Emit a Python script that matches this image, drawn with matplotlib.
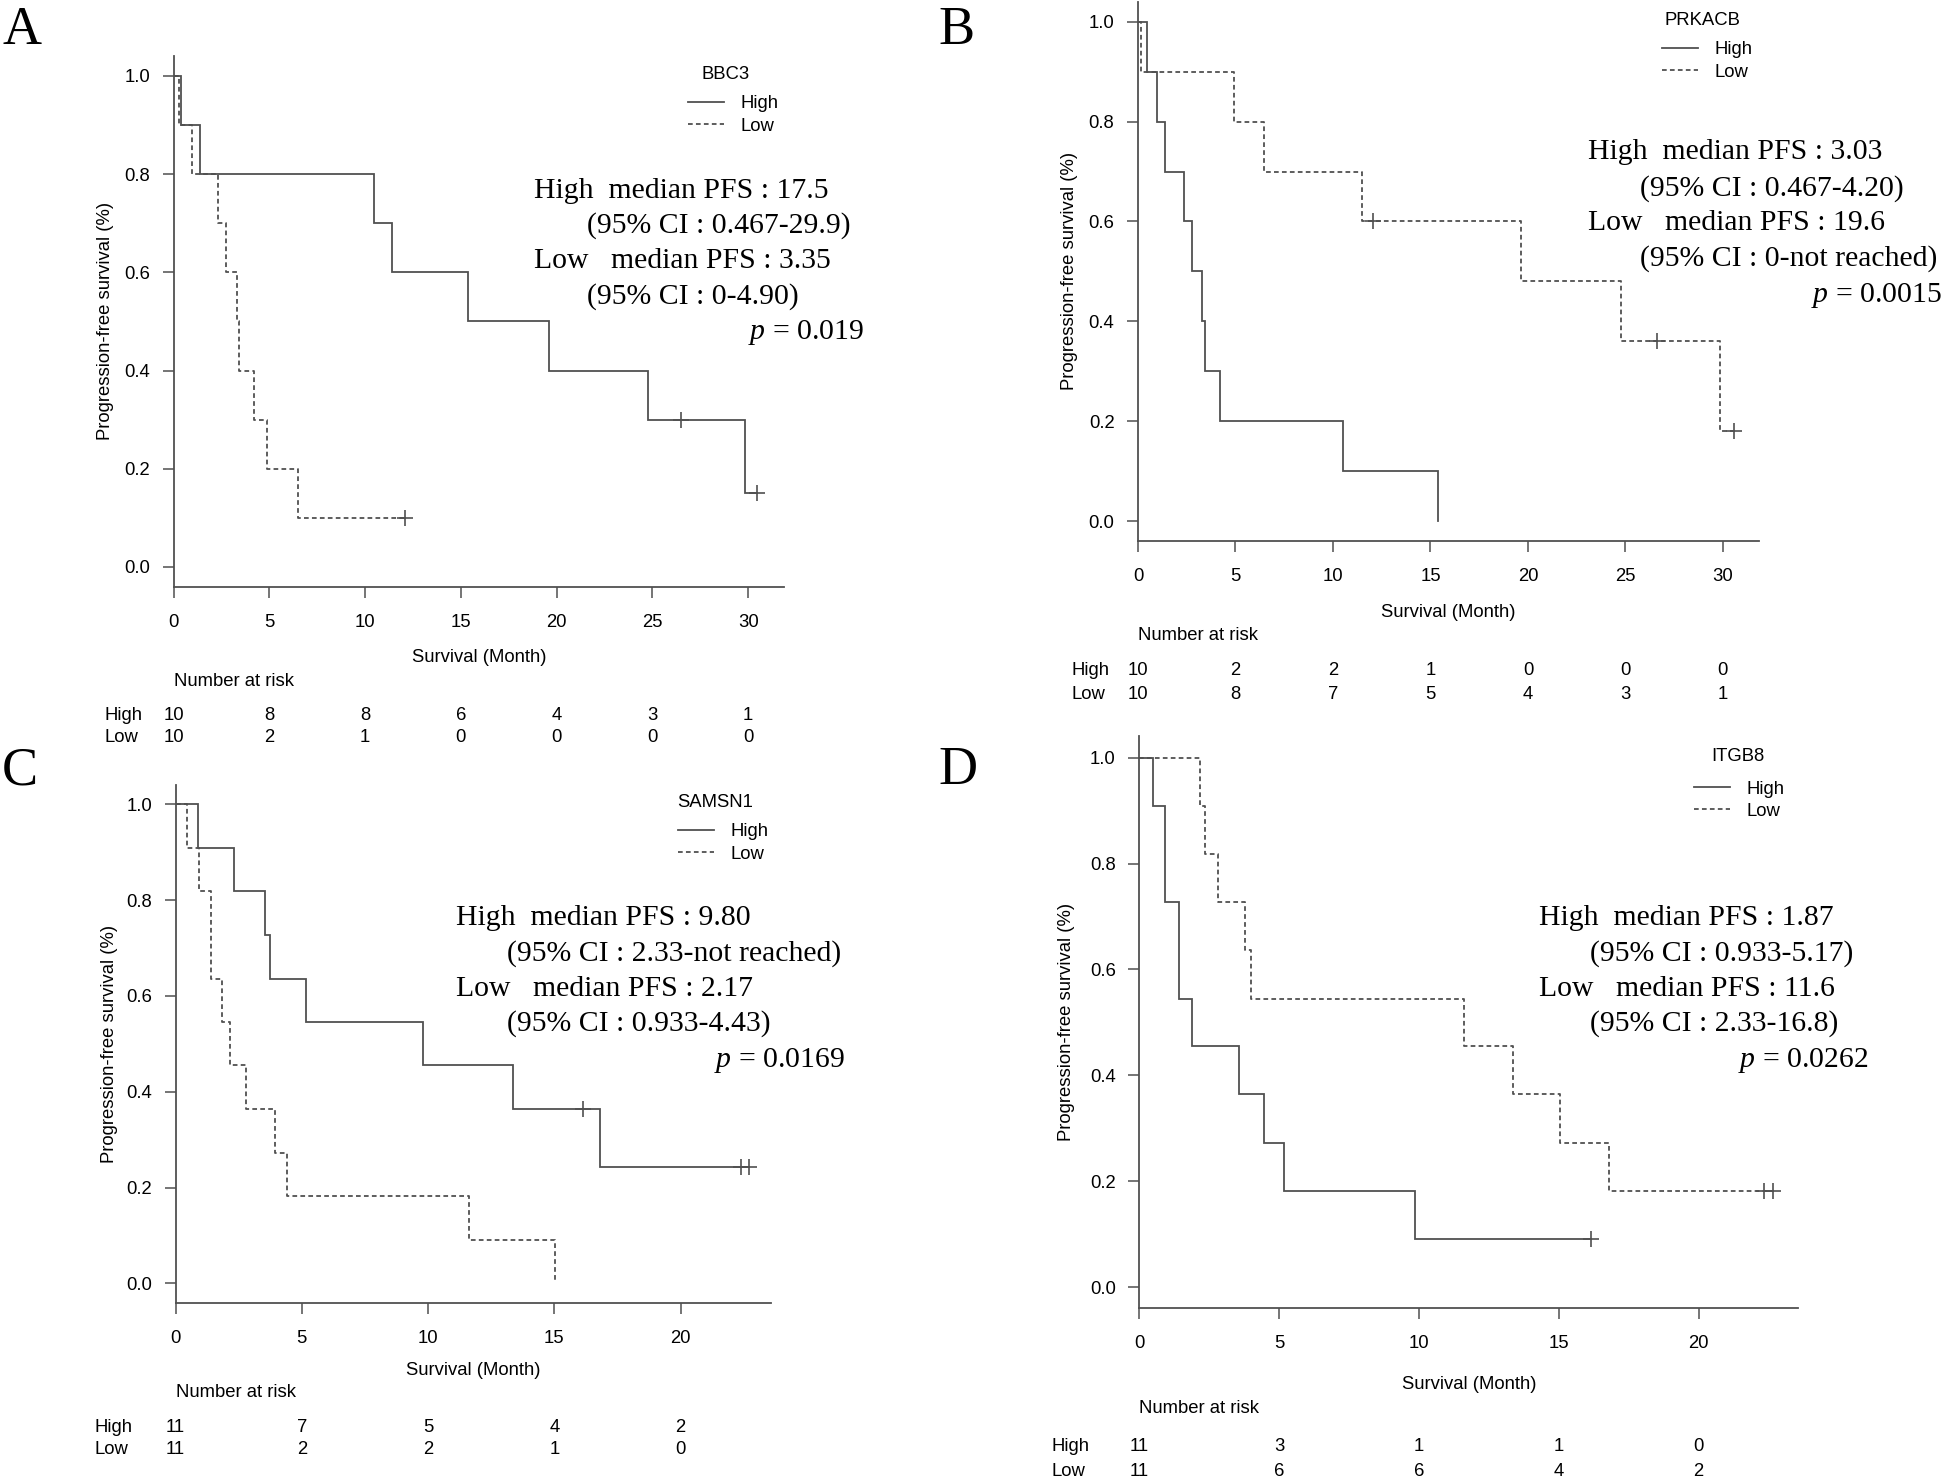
import matplotlib
matplotlib.use('Agg')
import matplotlib.pyplot as plt
from matplotlib.lines import Line2D
from matplotlib.transforms import blended_transform_factory
import numpy as np

plt.rcParams['font.family'] = ['Liberation Sans', 'DejaVu Sans']
plt.rcParams['mathtext.fontset'] = 'custom'
plt.rcParams['mathtext.rm'] = 'Liberation Serif'
plt.rcParams['mathtext.it'] = 'Liberation Serif:italic'

# ---------------- data ----------------
# Panel A : BBC3
A_gene = "BBC3"
A_high_t = [0, 0.40, 1.36, 10.44, 11.38, 15.36, 19.60, 24.77, 29.84]
A_high_s = [1.0, 0.9, 0.8, 0.7, 0.6, 0.5, 0.4, 0.3, 0.15]
A_high_cens = [26.5, 30.46]
A_low_t = [0, 0.30, 0.97, 2.33, 2.75, 3.30, 3.40, 4.20, 4.90, 6.50]
A_low_s = [1.0, 0.9, 0.8, 0.7, 0.6, 0.5, 0.4, 0.3, 0.2, 0.1]
A_low_cens = [12.06]
A_risk_t = [0, 5, 10, 15, 20, 25, 30]
A_risk_high = [10, 8, 8, 6, 4, 3, 1]
A_risk_low = [10, 2, 1, 0, 0, 0, 0]
A_stats = ["High  median PFS : 17.5", "(95% CI : 0.467-29.9)",
           "Low   median PFS : 3.35", "(95% CI : 0-4.90)"]
A_p = "0.019"

# Panel B : PRKACB
B_gene = "PRKACB"
B_high_t = [0, 0.467, 0.95, 1.40, 2.35, 2.77, 3.30, 3.43, 4.20, 10.52, 15.41]
B_high_s = [1.0, 0.9, 0.8, 0.7, 0.6, 0.5, 0.4, 0.3, 0.2, 0.1, 0.0]
B_high_cens = []
B_low_t = [0, 0.15, 4.90, 6.48, 11.50, 19.64, 24.79, 29.87]
B_low_s = [1.0, 0.9, 0.8, 0.7, 0.6, 0.48, 0.36, 0.18]
B_low_cens = [12.07, 26.6, 30.57]
B_risk_t = [0, 5, 10, 15, 20, 25, 30]
B_risk_high = [10, 2, 2, 1, 0, 0, 0]
B_risk_low = [10, 8, 7, 5, 4, 3, 1]
B_stats = ["High  median PFS : 3.03", "(95% CI : 0.467-4.20)",
           "Low   median PFS : 19.6", "(95% CI : 0-not reached)"]
B_p = "0.0015"

# Panel C : SAMSN1
C_gene = "SAMSN1"
C_high_t = [0, 0.91, 2.33, 3.53, 3.75, 5.15, 9.80, 13.35, 16.81]
C_high_s = [1.0, 0.909, 0.818, 0.727, 0.636, 0.545, 0.455, 0.364, 0.243]
C_high_cens = [16.12, 22.38, 22.70]
C_low_t = [0, 0.47, 0.933, 1.40, 1.84, 2.17, 2.80, 3.95, 4.43, 11.63, 15.02]
C_low_s = [1.0, 0.909, 0.818, 0.636, 0.545, 0.455, 0.364, 0.273, 0.182, 0.091, 0.0]
C_low_cens = []
C_risk_t = [0, 5, 10, 15, 20]
C_risk_high = [11, 7, 5, 4, 2]
C_risk_low = [11, 2, 2, 1, 0]
C_stats = ["High  median PFS : 9.80", "(95% CI : 2.33-not reached)",
           "Low   median PFS : 2.17", "(95% CI : 0.933-4.43)"]
C_p = "0.0169"

# Panel D : ITGB8
D_gene = "ITGB8"
D_high_t = [0, 0.49, 0.933, 1.40, 1.87, 3.55, 4.46, 5.17, 9.84]
D_high_s = [1.0, 0.909, 0.727, 0.545, 0.455, 0.364, 0.273, 0.182, 0.091]
D_high_cens = [16.14]
D_low_t = [0, 2.17, 2.33, 2.82, 3.77, 3.99, 11.60, 13.35, 15.03, 16.80]
D_low_s = [1.0, 0.909, 0.818, 0.727, 0.636, 0.545, 0.455, 0.364, 0.273, 0.182]
D_low_cens = [22.35, 22.66]
D_risk_t = [0, 5, 10, 15, 20]
D_risk_high = [11, 3, 1, 1, 0]
D_risk_low = [11, 6, 6, 4, 2]
D_stats = ["High  median PFS : 1.87", "(95% CI : 0.933-5.17)",
           "Low   median PFS : 11.6", "(95% CI : 2.33-16.8)"]
D_p = "0.0262"

y_ticks = [0.0, 0.2, 0.4, 0.6, 0.8, 1.0]
y_ticklabels = ["0.0", "0.2", "0.4", "0.6", "0.8", "1.0"]

# ---------------- layout (pixels) ----------------
W, H = 1944, 1478
GRAY = '#505050'
FS = 13.3
SERIF = ['Liberation Serif', 'DejaVu Serif']
SANS = ['Liberation Sans', 'DejaVu Sans']

fig = plt.figure(figsize=(W / 100, H / 100), dpi=100)
fig.patch.set_facecolor('white')


def fx(px):
    return px / W


def fy(py):
    return 1 - py / H


layouts = {
    'A': dict(box=(173.6, 56.2, 784.0, 586.6), xmax=31.87, letter=(2, 44),
              stat_x=(534.4, 586.5, 863.6), stat_y=(188.7, 223.9, 259.5, 294.7, 329.9),
              leg=(688, 95.5), leg_title=(726, 79.3), ylab_x=105,
              xlab_y=656, nar_y=680, hi_y=713, lo_y=735, row_x=105),
    'B': dict(box=(1138.0, 1.8, 1759.0, 541.0), xmax=31.85, letter=(938, 44),
              stat_x=(1587.6, 1639.7, 1942.0), stat_y=(150.4, 186.8, 221.2, 256.4, 292.8),
              leg=(1662, 41.5), leg_title=(1702, 24.7), ylab_x=1070,
              xlab_y=611, nar_y=633.6, hi_y=668, lo_y=692, row_x=1071),
    'C': dict(box=(175.5, 785.0, 770.6, 1302.6), xmax=23.56, letter=(2, 784),
              stat_x=(455.7, 507.0, 844.4), stat_y=(916, 951.6, 986.8, 1022, 1057.6),
              leg=(677.6, 823.2), leg_title=(715, 807.3), ylab_x=109,
              xlab_y=1369, nar_y=1391, hi_y=1425, lo_y=1447, row_x=94),
    'D': dict(box=(1139.4, 736.4, 1798.4, 1308.4), xmax=23.57, letter=(938, 784),
              stat_x=(1539.3, 1590.0, 1868.0), stat_y=(916, 951.6, 986.8, 1022, 1057.6),
              leg=(1694, 780.5), leg_title=(1737.6, 761.3), ylab_x=1066,
              xlab_y=1382.6, nar_y=1407.4, hi_y=1444.6, lo_y=1469.4, row_x=1051),
}

panels = {
    'A': (A_gene, (A_high_t, A_high_s, A_high_cens), (A_low_t, A_low_s, A_low_cens),
          (A_risk_t, A_risk_high, A_risk_low), A_stats, A_p),
    'B': (B_gene, (B_high_t, B_high_s, B_high_cens), (B_low_t, B_low_s, B_low_cens),
          (B_risk_t, B_risk_high, B_risk_low), B_stats, B_p),
    'C': (C_gene, (C_high_t, C_high_s, C_high_cens), (C_low_t, C_low_s, C_low_cens),
          (C_risk_t, C_risk_high, C_risk_low), C_stats, C_p),
    'D': (D_gene, (D_high_t, D_high_s, D_high_cens), (D_low_t, D_low_s, D_low_cens),
          (D_risk_t, D_risk_high, D_risk_low), D_stats, D_p),
}

LW = 1.3
DASH = (2.6, 1.8)


def draw_curve(ax, t, s, cens, dashed):
    end = max([t[-1]] + list(cens))
    xs = list(t) + [end]
    ys = list(s) + [s[-1]]
    kw = dict(color=GRAY, lw=LW, drawstyle='steps-post', solid_joinstyle='miter')
    if dashed:
        kw['linestyle'] = (0, DASH)
    ax.plot(xs, ys, **kw)
    if len(cens):
        idx = np.searchsorted(np.asarray(t), np.asarray(cens), side='right') - 1
        yc = np.asarray(s)[idx]
        ax.plot(cens, yc, linestyle='none', marker='+', markersize=11,
                markeredgewidth=1.2, color=GRAY)


for key in ['A', 'B', 'C', 'D']:
    L = layouts[key]
    gene, high, low, risk, stats, pval = panels[key]
    left, top, right, bottom = L['box']
    ax = fig.add_axes([fx(left), fy(bottom), (right - left) / W, (bottom - top) / H])
    ax.set_facecolor('none')
    ax.set_xlim(0, L['xmax'])
    ax.set_ylim(-0.04, 1.04)
    for sp in ['top', 'right']:
        ax.spines[sp].set_visible(False)
    for sp in ['left', 'bottom']:
        ax.spines[sp].set_color(GRAY)
        ax.spines[sp].set_linewidth(1.3)
    ax.set_xticks(risk[0])
    ax.set_xticklabels([str(v) for v in risk[0]])
    ax.set_yticks(y_ticks)
    ax.set_yticklabels(y_ticklabels)
    ax.tick_params(direction='out', length=8, width=1.1, color=GRAY,
                   labelsize=FS, labelcolor='black')
    ax.tick_params(axis='x', pad=11.5)
    ax.tick_params(axis='y', pad=9)

    draw_curve(ax, *high, dashed=False)
    draw_curve(ax, *low, dashed=True)

    # legend (entries) + title
    handles = [Line2D([], [], color=GRAY, lw=LW),
               Line2D([], [], color=GRAY, lw=LW, linestyle=(0, DASH))]
    ax.legend(handles, ['High', 'Low'], loc='upper left', frameon=False,
              bbox_to_anchor=(fx(L['leg'][0]), fy(L['leg'][1])),
              bbox_transform=fig.transFigure, borderpad=0, borderaxespad=0,
              handlelength=1.95, handletextpad=0.9, labelspacing=0.29,
              fontsize=FS)
    fig.text(fx(L['leg_title'][0]), fy(L['leg_title'][1]), gene, ha='center',
             va='baseline', fontsize=FS, family=SANS)

    # statistics text
    sx = L['stat_x']
    sy = L['stat_y']
    for i, line in enumerate(stats):
        xpx = sx[0] if i % 2 == 0 else sx[1]
        fig.text(fx(xpx), fy(sy[i] + 9), line, ha='left', va='baseline',
                 fontsize=21.4, family=SERIF)
    fig.text(fx(sx[2]), fy(sy[4] + 9), r'$p$ = ' + pval, ha='right',
             va='baseline', fontsize=21.4, family=SERIF)

    # axis labels
    fig.text(fx(L['ylab_x']), fy((top + bottom) / 2), 'Progression-free survival (%)',
             rotation=90, ha='center', va='center', fontsize=FS, family=SANS)
    fig.text(fx((left + right) / 2), fy(L['xlab_y'] + 6), 'Survival (Month)',
             ha='center', va='baseline', fontsize=FS, family=SANS)

    # number at risk table
    trans = blended_transform_factory(ax.transData, fig.transFigure)
    ax.text(0, fy(L['nar_y'] + 6), 'Number at risk', transform=trans, ha='left',
            va='baseline', fontsize=FS, clip_on=False)
    fig.text(fx(L['row_x']), fy(L['hi_y'] + 6.5), 'High', ha='left', va='baseline',
             fontsize=FS, family=SANS)
    fig.text(fx(L['row_x']), fy(L['lo_y'] + 6.5), 'Low', ha='left', va='baseline',
             fontsize=FS, family=SANS)
    for tv, nh, nl in zip(risk[0], risk[1], risk[2]):
        ax.text(tv, fy(L['hi_y'] + 6.5), str(nh), transform=trans, ha='center',
                va='baseline', fontsize=FS, clip_on=False)
        ax.text(tv, fy(L['lo_y'] + 6.5), str(nl), transform=trans, ha='center',
                va='baseline', fontsize=FS, clip_on=False)

    # panel letter
    fig.text(fx(L['letter'][0]), fy(L['letter'][1]), key, ha='left', va='baseline',
             fontsize=39, family=SERIF)

fig.savefig('out.png', dpi=100, facecolor='white')
